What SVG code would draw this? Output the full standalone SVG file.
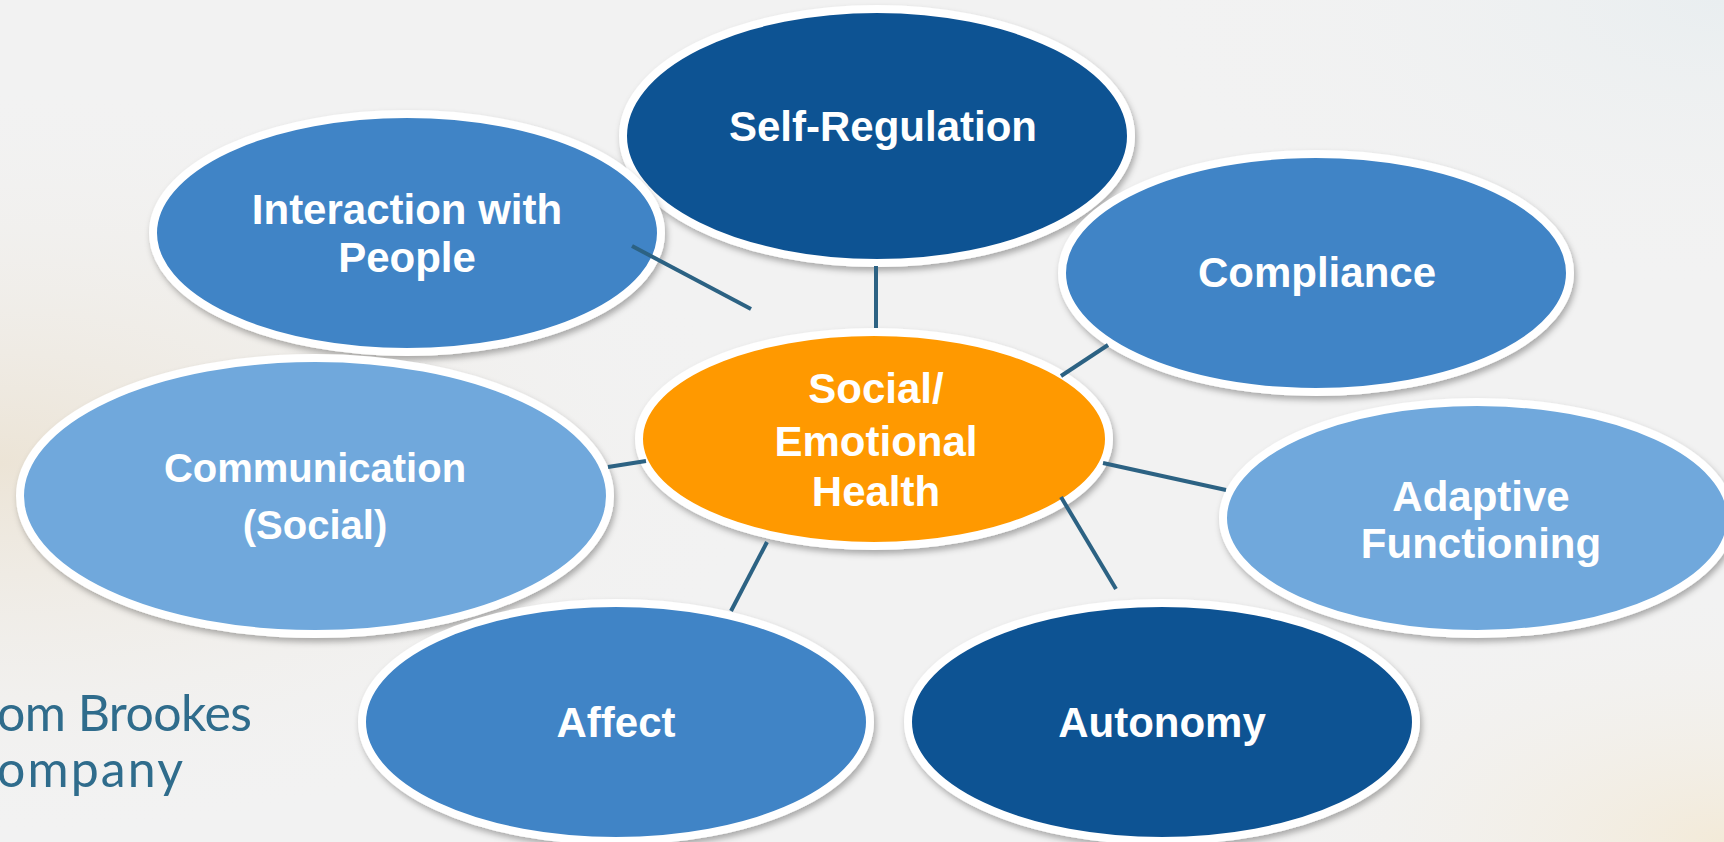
<svg xmlns="http://www.w3.org/2000/svg" width="1724" height="842" viewBox="0 0 1724 842">
<defs>
<radialGradient id="warmL" cx="0" cy="0.55" r="0.45" gradientUnits="objectBoundingBox">
<stop offset="0" stop-color="#ece4d6"/><stop offset="1" stop-color="#f2f2f2" stop-opacity="0"/>
</radialGradient>
<radialGradient id="warmR" cx="1" cy="1" r="0.3">
<stop offset="0" stop-color="#f3ead8"/><stop offset="1" stop-color="#f2f2f2" stop-opacity="0"/>
</radialGradient>
<radialGradient id="coolTR" cx="1" cy="0" r="0.35">
<stop offset="0" stop-color="#e9eef0"/><stop offset="1" stop-color="#f2f2f2" stop-opacity="0"/>
</radialGradient>
<filter id="sh" x="-10%" y="-10%" width="120%" height="130%">
<feDropShadow dx="2" dy="4" stdDeviation="3" flood-color="#000" flood-opacity="0.3"/>
</filter>
</defs>
<style>
.n{stroke:#fff;stroke-width:8;filter:url(#sh)}
.dk{fill:#0f5393}
.md{fill:#4084c6}
.lt{fill:#6fa8dc}
.or{fill:#ff9900}
.t{font-family:"Liberation Sans",Arial,sans-serif;font-weight:bold;font-size:42px;fill:#fff;text-anchor:middle}
.c line{stroke:#2c6283;stroke-width:4}
.brand{font-family:"Century Gothic","Lato","Open Sans",sans-serif;font-weight:400;font-size:50px;fill:#2f6c8c}
</style>
<rect width="1724" height="842" fill="#f2f2f2"/>
<rect width="1724" height="842" fill="url(#warmL)"/>
<rect width="1724" height="842" fill="url(#warmR)"/>
<rect width="1724" height="842" fill="url(#coolTR)"/>
<text class="brand" x="-3" y="731" textLength="255">om Brookes</text>
<text class="brand" x="-3" y="787" textLength="186">ompany</text>
<g id="self-regulation"><ellipse class="n dk" cx="877" cy="136" rx="254" ry="127"/><text class="t" x="883" y="141">Self-Regulation</text></g>
<g id="interaction"><ellipse class="n md" cx="407" cy="233" rx="254" ry="119"/><text class="t" x="407" y="224">Interaction with</text><text class="t" x="407" y="272">People</text></g>
<g id="compliance"><ellipse class="n md" cx="1316" cy="273" rx="254" ry="119"/><text class="t" x="1317" y="287">Compliance</text></g>
<g id="communication"><ellipse class="n lt" cx="315" cy="496" rx="295" ry="138"/><text class="t" x="315" y="482" style="font-size:40px">Communication</text><text class="t" x="315" y="539" style="font-size:40px">(Social)</text></g>
<g id="adaptive"><ellipse class="n lt" cx="1477" cy="518" rx="254" ry="116"/><text class="t" x="1481" y="511">Adaptive</text><text class="t" x="1481" y="558">Functioning</text></g>
<g id="affect"><ellipse class="n md" cx="616" cy="722" rx="254" ry="119"/><text class="t" x="616" y="737">Affect</text></g>
<g id="autonomy"><ellipse class="n dk" cx="1162" cy="722" rx="254" ry="119"/><text class="t" x="1162" y="737">Autonomy</text></g>
<g id="center"><ellipse class="n or" cx="874" cy="439" rx="235" ry="107"/><text class="t" x="876" y="403">Social/</text><text class="t" x="876" y="456">Emotional</text><text class="t" x="876" y="506">Health</text></g>
<g id="connectors" class="c">
<line x1="876" y1="266" x2="876" y2="328"/>
<line x1="632" y1="246" x2="751" y2="309"/>
<line x1="1108" y1="345" x2="1061" y2="376"/>
<line x1="608" y1="467" x2="646" y2="461"/>
<line x1="1103" y1="463" x2="1226" y2="490"/>
<line x1="1061" y1="497" x2="1116" y2="589"/>
<line x1="767" y1="542" x2="731" y2="611"/>
</g>
</svg>
